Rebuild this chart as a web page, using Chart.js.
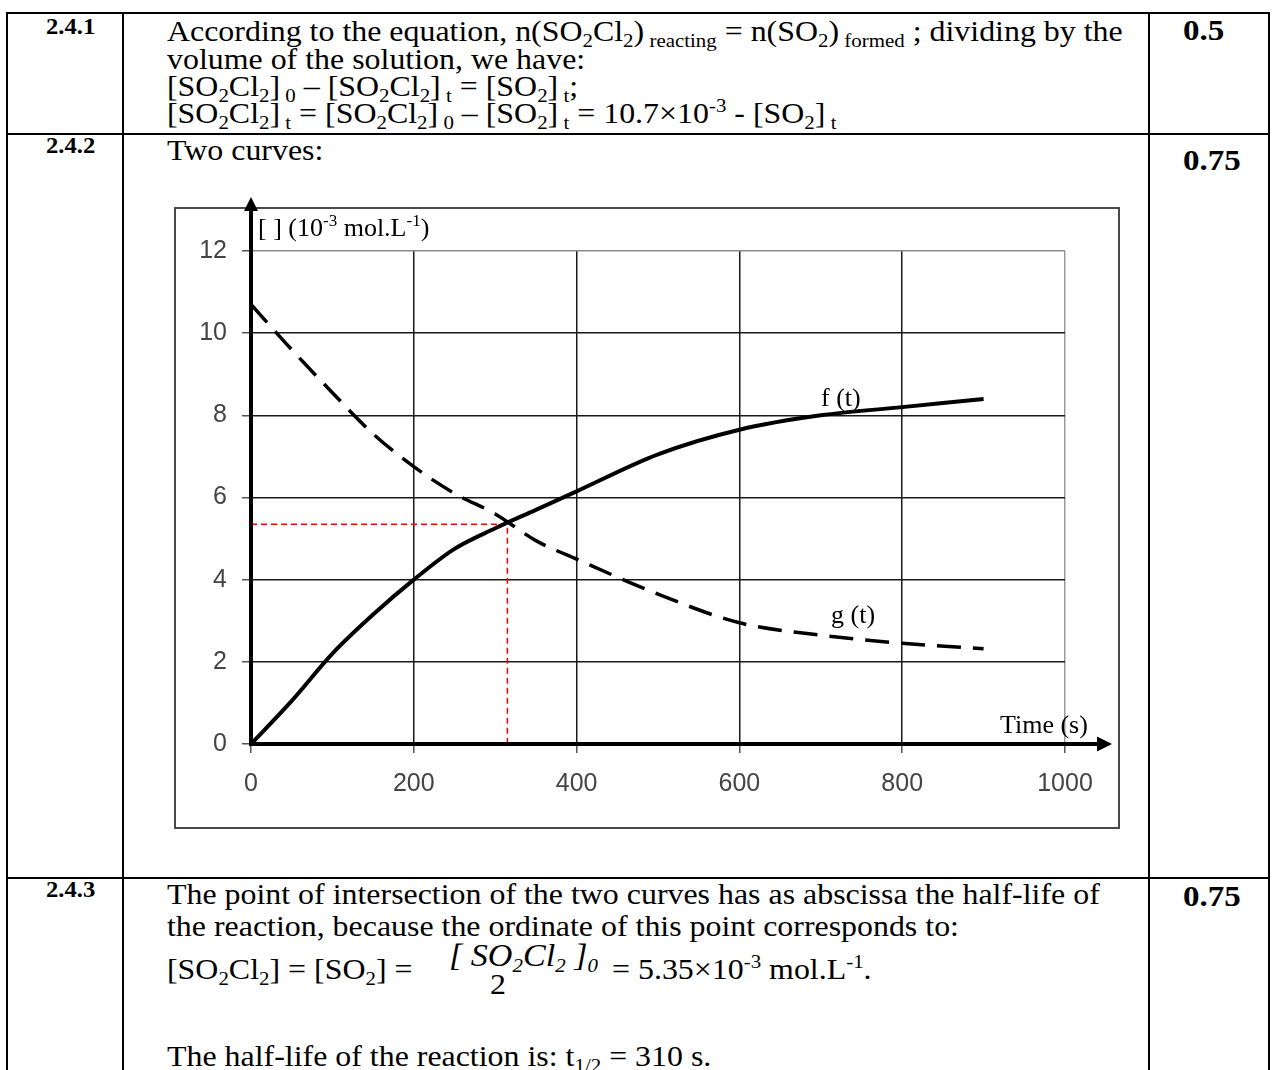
<!DOCTYPE html>
<html><head><meta charset="utf-8">
<script src="https://cdn.jsdelivr.net/npm/chart.js@4.4.1/dist/chart.umd.min.js"></script>
<style>
html,body{margin:0;padding:0;background:#fff;}
#page{position:relative;width:1272px;height:1070px;overflow:hidden;font-family:"Liberation Serif","Times New Roman",serif;color:#000;}
.h{position:absolute;background:#000;height:2px;}
.v{position:absolute;background:#000;width:2px;}
.t{position:absolute;white-space:nowrap;font-size:29px;line-height:29px;transform:scaleX(1.1);transform-origin:0 0;}
.b{font-weight:bold;}
.n{font-size:23px;line-height:23px;transform:scaleX(1.07);}
.m{font-size:30px;line-height:30px;}
.s{font-size:19px;line-height:0;vertical-align:-5.5px;}
.u{font-size:19px;line-height:0;vertical-align:11px;}
.i{font-style:italic;}
.a{position:absolute;white-space:nowrap;font-size:26px;line-height:26px;}
.a .u{font-size:17px;vertical-align:10px;}
#frame{position:absolute;left:174px;top:207px;width:946px;height:622px;box-sizing:border-box;border:2px solid #4a4a4a;}
#cv{position:absolute;left:174px;top:190px;}
</style></head><body><div id="page">

<!-- table rules -->
<div class="h" style="left:6px;top:12px;width:1264px"></div>
<div class="h" style="left:6px;top:133px;width:1264px"></div>
<div class="h" style="left:6px;top:877px;width:1264px"></div>
<div class="v" style="left:6px;top:12px;height:1058px"></div>
<div class="v" style="left:122px;top:12px;height:1058px"></div>
<div class="v" style="left:1148px;top:12px;height:1058px"></div>
<div class="v" style="left:1268px;top:12px;height:1058px"></div>

<!-- row 1 -->
<div class="t b n" style="left:46px;top:15px">2.4.1</div>
<div class="t b m" style="left:1183px;top:15px">0.5</div>
<div class="t" style="left:167px;top:17px">According to the equation, n(SO<span class="s">2</span>Cl<span class="s">2</span>)<span class="s"> reacting</span> = n(SO<span class="s">2</span>)<span class="s"> formed</span> ; dividing by the</div>
<div class="t" style="left:167px;top:45px">volume of the solution, we have:</div>
<div class="t" style="left:167px;top:72px">[SO<span class="s">2</span>Cl<span class="s">2</span>]<span class="s"> 0</span> – [SO<span class="s">2</span>Cl<span class="s">2</span>]<span class="s"> t</span> = [SO<span class="s">2</span>]<span class="s"> t</span>;</div>
<div class="t" style="left:167px;top:99px">[SO<span class="s">2</span>Cl<span class="s">2</span>]<span class="s"> t</span> = [SO<span class="s">2</span>Cl<span class="s">2</span>]<span class="s"> 0</span> – [SO<span class="s">2</span>]<span class="s"> t</span> = 10.7×10<span class="u">-3</span> - [SO<span class="s">2</span>]<span class="s"> t</span></div>

<!-- row 2 -->
<div class="t b n" style="left:46px;top:134px">2.4.2</div>
<div class="t b m" style="left:1183px;top:145px">0.75</div>
<div class="t" style="left:167px;top:136px">Two curves:</div>

<div id="frame"></div>
<canvas id="cv" width="950" height="645"></canvas>
<div class="a" style="left:258px;top:215px">[ ] (10<span class="u">-3</span> mol.L<span class="u">-1</span>)</div>
<div class="a" style="left:1000px;top:712px">Time (s)</div>
<div class="a" style="left:821px;top:385px">f (t)</div>
<div class="a" style="left:831px;top:602px">g (t)</div>

<!-- row 3 -->
<div class="t b n" style="left:46px;top:878px">2.4.3</div>
<div class="t b m" style="left:1183px;top:881px">0.75</div>
<div class="t" style="left:167px;top:880px">The point of intersection of the two curves has as abscissa the half-life of</div>
<div class="t" style="left:167px;top:912px">the reaction, because the ordinate of this point corresponds to:</div>
<div class="t" style="left:167px;top:955px">[SO<span class="s">2</span>Cl<span class="s">2</span>] = [SO<span class="s">2</span>] =</div>
<div class="t i" style="left:449px;top:941px;font-size:31px">[ SO<span class="s">2</span>Cl<span class="s">2</span> ]<span class="s">0</span></div>
<div class="t" style="left:490px;top:970px">2</div>
<div class="t" style="left:612px;top:955px">= 5.35×10<span class="u">-3</span> mol.L<span class="u">-1</span>.</div>
<div class="t" style="left:167px;top:1042px">The half-life of the reaction is: t<span class="s">1/2</span> = 310 s.</div>

</div>
<script>
// ---- data ----
const times   = [0, 50, 100, 150, 200, 250, 300, 350, 400, 500, 600, 700, 800, 900];
const fValues = [0, 1.05, 2.2, 3.15, 4.0, 4.75, 5.25, 5.7, 6.15, 7.05, 7.65, 8.0, 8.2, 8.4];
const gValues = [10.7, 9.6, 8.55, 7.55, 6.75, 6.1, 5.6, 4.95, 4.5, 3.65, 2.95, 2.65, 2.45, 2.32];
const halfLifeTime = 315;
const halfConc = 5.35;
const xTicks = [0, 200, 400, 600, 800, 1000];
const yTicks = [0, 2, 4, 6, 8, 10, 12];

const pts = (ys) => times.map((t, i) => ({x: t, y: ys[i]}));

const axesPlugin = {
  id: 'arrowAxes',
  afterDatasetsDraw(chart) {
    const {ctx, chartArea, scales} = chart;
    const x0 = scales.x.getPixelForValue(0);
    const y0 = scales.y.getPixelForValue(0);
    ctx.save();
    ctx.strokeStyle = '#000';
    ctx.fillStyle = '#000';
    ctx.lineWidth = 4;
    const tipY = chartArea.top - 54;
    ctx.beginPath();
    ctx.moveTo(x0, y0 + 2);
    ctx.lineTo(x0, tipY + 12);
    ctx.stroke();
    ctx.beginPath();
    ctx.moveTo(x0, tipY);
    ctx.lineTo(x0 - 7, tipY + 14);
    ctx.lineTo(x0 + 7, tipY + 14);
    ctx.closePath();
    ctx.fill();
    const tipX = chartArea.right + 47;
    ctx.beginPath();
    ctx.moveTo(x0 - 2, y0);
    ctx.lineTo(tipX - 12, y0);
    ctx.stroke();
    ctx.beginPath();
    ctx.moveTo(tipX, y0);
    ctx.lineTo(tipX - 15, y0 - 7.5);
    ctx.lineTo(tipX - 15, y0 + 7.5);
    ctx.closePath();
    ctx.fill();
    ctx.restore();
  }
};

const tickFont = {family: '"Liberation Sans Narrow","Liberation Sans",Arial,sans-serif', size: 25};

new Chart(document.getElementById('cv'), {
  type: 'line',
  data: {
    datasets: [
      {label: 'f (t)', data: pts(fValues), borderColor: '#000', borderWidth: 4,
       cubicInterpolationMode: 'monotone', pointRadius: 0, fill: false},
      {label: 'g (t)', data: pts(gValues), borderColor: '#000', borderWidth: 3.5,
       borderDash: [24, 12], cubicInterpolationMode: 'monotone', pointRadius: 0, fill: false},
      {label: 'half-life', data: [{x: 0, y: halfConc}, {x: halfLifeTime, y: halfConc}, {x: halfLifeTime, y: 0}],
       borderColor: '#ff0000', borderWidth: 1.5, borderDash: [6, 4], tension: 0, pointRadius: 0, fill: false}
    ]
  },
  options: {
    responsive: false,
    animation: false,
    events: [],
    layout: {padding: {left: 0, top: 61, right: 59, bottom: 0}},
    plugins: {legend: {display: false}, tooltip: {enabled: false}},
    scales: {
      x: {
        type: 'linear', min: 0, max: 1000,
        afterBuildTicks: (s) => { s.ticks = xTicks.map(v => ({value: v})); },
        afterFit: (s) => { s.height = 91; },
        border: {display: false},
        grid: {color: (c) => (c.tick && c.tick.value === 1000) ? '#9a9a9a' : '#1a1a1a',
               lineWidth: 1.5, tickLength: 9, tickColor: '#555'},
        ticks: {color: '#444', padding: 16, maxRotation: 0, font: tickFont,
                callback: (v) => String(v)}
      },
      y: {
        type: 'linear', min: 0, max: 12,
        afterBuildTicks: (s) => { s.ticks = yTicks.map(v => ({value: v})); },
        afterFit: (s) => { s.width = 77; },
        border: {display: false},
        grid: {color: (c) => (c.tick && c.tick.value === 12) ? '#8a8a8a' : '#1a1a1a',
               lineWidth: 1.5, tickLength: 9, tickColor: '#555'},
        ticks: {color: '#444', padding: 15, font: tickFont, callback: (v) => String(v)}
      }
    }
  },
  plugins: [axesPlugin]
});
</script>
</body></html>
